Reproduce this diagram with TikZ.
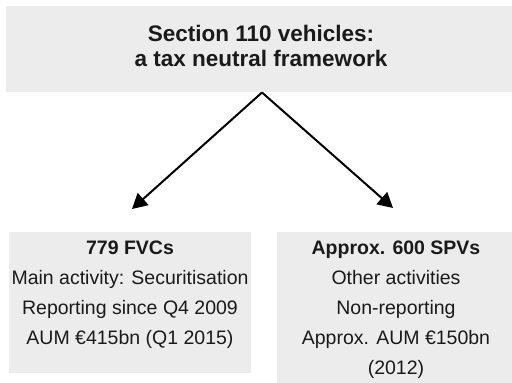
\documentclass[tikz,border=0pt]{standalone}
\usepackage{fontspec}
\setmainfont{Liberation Sans}
\usetikzlibrary{arrows.meta}
\definecolor{panel}{HTML}{EBECEB}
\definecolor{ink}{HTML}{1A1A1A}
\tikzset{
  panelbox/.style={fill=panel, draw=none, inner sep=0pt},
  titletext/.style={inner sep=0pt, align=center, text=ink,
    font={\fontsize{22.5}{24.5}\selectfont\bfseries}},
  bodytext/.style={inner sep=0pt, align=center, text=ink,
    font={\fontsize{19.5}{30}\selectfont}},
  flow/.style={line width=2pt, draw=black,
    -{Triangle[length=15pt,width=16pt]}}
}
\begin{document}
\begin{tikzpicture}[x=1pt,y=1pt]
  \useasboundingbox (0,0) rectangle (512,383);
  % panels
  \node[panelbox, minimum width=506pt, minimum height=86.5pt, anchor=south west] (top) at (6,290.5) {};
  \node[panelbox, minimum width=242pt, minimum height=141pt, anchor=south west] (fvc) at (9,10) {};
  \node[panelbox, minimum width=235pt, minimum height=151pt, anchor=south west] (spv) at (277,0) {};
  % texts
  \node[titletext, anchor=north] (toptext) at (261,358) {Section 110 vehicles:\\a tax neutral framework};
  \node[bodytext, anchor=north] (fvctext) at (130,142) {\textbf{779 FVCs}\\Main activity: Securitisation\\Reporting since Q4 2009\\AUM €415bn (Q1 2015)};
  \node[bodytext, anchor=north] (spvtext) at (396,142) {\textbf{Approx. 600 SPVs}\\Other activities\\Non-reporting\\Approx. AUM €150bn\\(2012)};
  % connectors
  \coordinate (apex) at (262,290.5);
  \coordinate (lefttip) at (132,174);
  \coordinate (righttip) at (393,175);
  \draw[flow] (apex) -- (lefttip);
  \draw[flow] (apex) -- (righttip);
\end{tikzpicture}
\end{document}
